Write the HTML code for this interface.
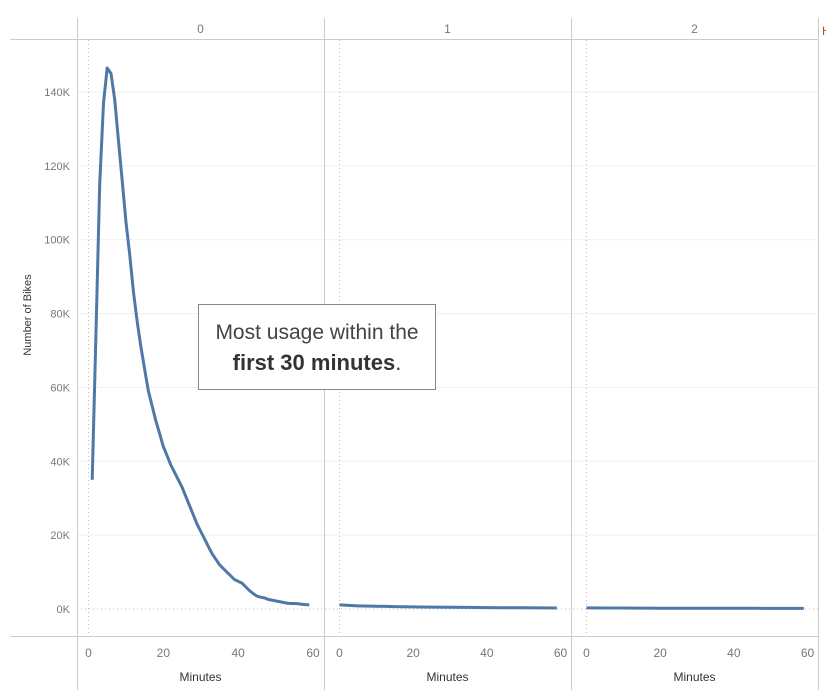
<!DOCTYPE html>
<html><head><meta charset="utf-8"><style>
body{margin:0;background:#fff;font-family:"Liberation Sans",sans-serif;}
svg{display:block}
</style></head><body>
<svg id="c" width="826" height="700"></svg>
<script>
const panes=["0","1","2"];
const yTicks=[0,20000,40000,60000,80000,100000,120000,140000];
const yTickLabels=["0K","20K","40K","60K","80K","100K","120K","140K"];
const xTicks=[0,20,40,60];
const minutes0=[1,2,3,4,5,6,7,8,9,10,11,12,13,14,15,16,17,18,19,20,21,22,23,24,25,26,27,28,29,30,31,32,33,34,35,36,37,38,39,40,41,42,43,44,45,46,47,48,49,50,51,52,53,54,55,56,57,58,59];
const bikes0=[35000,75000,115000,137000,146500,145000,138000,127000,116000,105000,96000,86000,78000,71000,65000,59000,55000,51000,47500,44000,41500,39000,37000,35000,33000,30500,28000,25500,23000,21000,19000,17000,15000,13500,12000,11000,10000,9000,8000,7500,7000,6000,5000,4200,3500,3200,3000,2600,2400,2200,2000,1800,1600,1500,1500,1400,1300,1200,1100];
const minutes1=[0,5,10,15,20,25,30,35,40,45,50,55,59];
const bikes1=[1100,850,750,650,580,520,460,420,380,350,320,300,280];
const minutes2=[0,5,10,15,20,25,30,35,40,45,50,55,59];
const bikes2=[300,280,260,240,230,220,210,200,190,180,170,160,150];
const series=[[minutes0,bikes0],[minutes1,bikes1],[minutes2,bikes2]];
const NS="http://www.w3.org/2000/svg";
const svg=document.getElementById('c');
const paneLeft=[77,324,571], paneW=247;
const paneOrigin=[88.5,339.5,586.5], paneEnd=[313,560.5,807.5];
const y=v=>609-v/140000*517;
const x=(p,m)=>paneOrigin[p]+m*(paneEnd[p]-paneOrigin[p])/60;
function el(t,a,parent){const e=document.createElementNS(NS,t);for(const k in a)e.setAttribute(k,a[k]);(parent||svg).appendChild(e);return e;}
yTicks.forEach((v,i)=>{
  if(v>0){const g=el('line',{x1:77,x2:818,y1:y(v),y2:y(v),stroke:'#efefef','stroke-width':1});
  
  }
  const t=el('text',{x:70,y:y(v)+4,'text-anchor':'end','font-size':11,fill:'#777'});t.textContent=yTickLabels[i];
  
  
});
const z=el('line',{x1:77,x2:818,y1:y(0),y2:y(0),stroke:'#bbb','stroke-dasharray':'1,3'});


panes.forEach((p,i)=>{
  const zl=el('line',{x1:x(i,0),x2:x(i,0),y1:40,y2:636,stroke:'#bbb','stroke-dasharray':'1,3'});
  
  
  const h=el('text',{x:paneLeft[i]+paneW/2,y:33,'text-anchor':'middle','font-size':12,fill:'#777'});h.textContent=p;
  
  
  xTicks.forEach(m=>{const t=el('text',{x:x(i,m),y:657,'text-anchor':'middle','font-size':12,fill:'#777'});t.textContent=m;
    
    });
  const xt=el('text',{x:paneLeft[i]+paneW/2,y:681,'text-anchor':'middle','font-size':12,fill:'#333'});xt.textContent='Minutes';
  
  
  const [ms,bs]=series[i];
  const d=ms.map((m,k)=>(k?'L':'M')+x(i,m).toFixed(1)+','+y(bs[k]).toFixed(1)).join('');
  const path=el('path',{d:d,fill:'none',stroke:'#4e79a7','stroke-width':3,'stroke-linejoin':'round'});
  
  
});
el('line',{x1:10,x2:818,y1:39.5,y2:39.5,stroke:'#ccc'});
el('line',{x1:10,x2:818,y1:636.5,y2:636.5,stroke:'#ccc'});
[77,324,571,818].forEach(xx=>el('line',{x1:xx+.5,x2:xx+.5,y1:18,y2:690,stroke:'#ccc'}));
const hh=el('text',{x:822,y:35,'font-size':12,fill:'#a05a2c'});hh.textContent='H';


const yt=el('text',{x:0,y:0,'text-anchor':'middle','font-size':11,fill:'#333',transform:'translate(31,315) rotate(-90)'});yt.textContent='Number of Bikes';


const g=el('g',{});


el('rect',{x:198.5,y:304.5,width:237,height:85,fill:'#fff',stroke:'#888'},g);
const a1=el('text',{x:317,y:339,'text-anchor':'middle','font-size':21,fill:'#444'},g);a1.textContent='Most usage within the';
const a2=el('text',{x:317,y:370,'text-anchor':'middle','font-size':22,fill:'#333'},g);
a2.innerHTML='<tspan font-weight="bold">first 30 minutes</tspan>.';
</script>
</body></html>
